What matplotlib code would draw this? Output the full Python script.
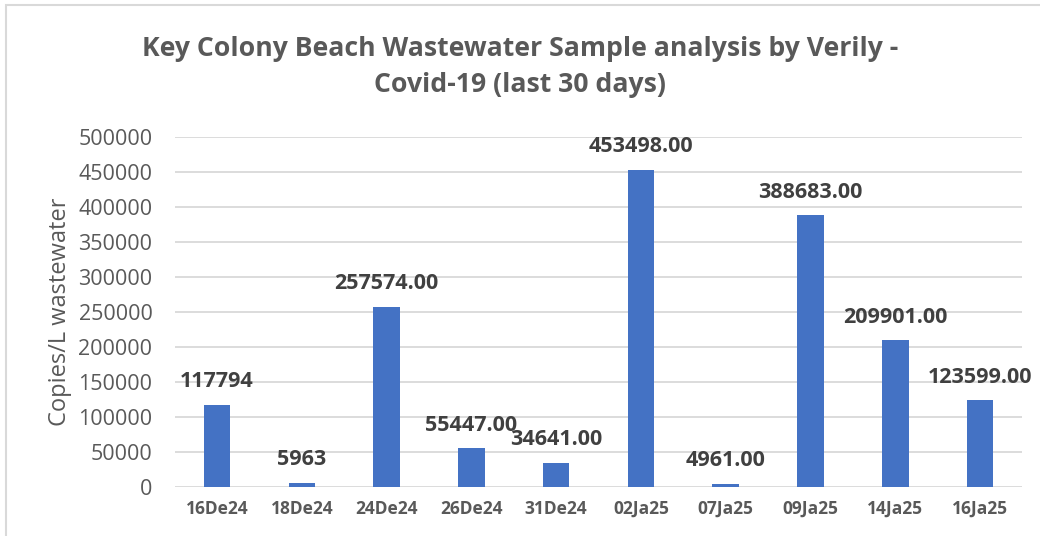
import matplotlib.pyplot as plt
from matplotlib.patches import Rectangle

dates = ['16De24', '18De24', '24De24', '26De24', '31De24',
         '02Ja25', '07Ja25', '09Ja25', '14Ja25', '16Ja25']
copies = [117794, 5963, 257574, 55447, 34641,
          453498, 4961, 388683, 209901, 123599]
value_labels = ['117794', '5963', '257574.00', '55447.00', '34641.00',
                '453498.00', '4961.00', '388683.00', '209901.00', '123599.00']

plt.rcParams['font.family'] = ['Open Sans', 'DejaVu Sans']

fig = plt.figure(figsize=(10.4, 5.36), dpi=100)
ax = fig.add_axes([0.168, 0.0914, 0.815, 0.653])

x = range(len(dates))
ax.bar(x, copies, width=0.315, color='#4472C4', zorder=3)

for i, (v, s) in enumerate(zip(copies, value_labels)):
    ax.annotate(s, (i, v), xytext=(0, 12.5), textcoords='offset points',
                ha='center', va='baseline', fontsize=15.5,
                fontweight='bold', color='#404040', zorder=4)

ax.set_xlim(-0.5, len(dates) - 0.5)
ax.set_ylim(0, 500000)
ax.set_yticks(range(0, 500001, 50000))
ax.set_xticks(list(x))
ax.set_xticklabels(dates, fontsize=12.5, fontweight='bold', color='#595959')
ax.tick_params(axis='y', length=0, pad=16, labelsize=15.5, labelcolor='#595959')
ax.tick_params(axis='x', length=0, pad=9)
ax.grid(axis='y', color='#D9D9D9', linewidth=1.3, zorder=0)
for sp in ax.spines.values():
    sp.set_visible(False)

ax.set_ylabel('Copies/L wastewater', fontsize=17, color='#595959')
ax.yaxis.set_label_coords(-0.121, 0.5)

fig.text(0.5, 0.875, 'Key Colony Beach Wastewater Sample analysis by Verily -\nCovid-19 (last 30 days)',
         ha='center', va='center', fontsize=19.2, fontweight='bold',
         color='#595959', linespacing=1.46)

fig.patches.append(Rectangle((6 / 1040, -0.1), 1.2, 1.1 - 5 / 536,
                             transform=fig.transFigure, fill=False,
                             edgecolor='#D9D9D9', linewidth=1.5))

fig.savefig('out.png', dpi=100)
